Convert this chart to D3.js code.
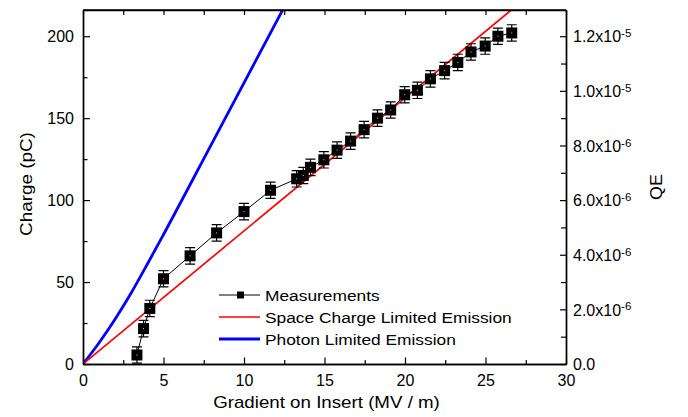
<!DOCTYPE html>
<html>
<head>
<meta charset="utf-8">
<script src="https://cdn.jsdelivr.net/npm/d3@7"></script>
<style>
  body { margin: 0; background: #fff; }
  text { font-family: "Liberation Sans", Arial, sans-serif; fill: #000; }
</style>
</head>
<body>
<div id="chart"></div>
<script>
// measured points (gradient MV/m, charge pC)
const gradient = [3.35, 3.76, 4.15, 5.0, 6.65, 8.3, 10.0, 11.65, 13.27, 13.68, 14.13, 14.96, 15.78, 16.62,
    17.46, 18.29, 19.11, 19.98, 20.77, 21.58, 22.46, 23.28, 24.1, 24.98, 25.77, 26.63]
const charge = [5.5, 21.6, 33.9, 52, 66, 80, 93, 106, 113, 115, 120, 124.6, 130.5, 136,
    143, 150, 155, 164.3, 167, 174, 179, 184, 190.4, 194, 200, 202]
const chargeErr = 5

// model curves
const spaceChargeX = [0, 26.6]
const spaceChargeY = [0, 216]
const photonX = [0, 1, 2, 3, 4, 5, 8, 12.4]
const photonY = [0, 13, 27.5, 43.5, 61, 79, 134.5, 216]

const xTicks = [0, 5, 10, 15, 20, 25, 30]
const yTicks = [0, 50, 100, 150, 200]
const qeTicks = [0, 2e-6, 4e-6, 6e-6, 8e-6, 1e-5, 1.2e-5]
const qeLabels = [["0.0", ""], ["2.0x10", "-6"], ["4.0x10", "-6"], ["6.0x10", "-6"], ["8.0x10", "-6"], ["1.0x10", "-5"], ["1.2x10", "-5"]]
const legendNames = ["Measurements", "Space Charge Limited Emission", "Photon Limited Emission"]

const width = 688, height = 417
const mLeft = 83, mRight = 566, mTop = 10, mBottom = 364

const svg = d3.select("#chart").append("svg")
    .attr("width", width)
    .attr("height", height)

const x = d3.scaleLinear().domain([0, 30]).range([mLeft, mRight])
const y = d3.scaleLinear().domain([0, 216]).range([mBottom, mTop])
const yQE = d3.scaleLinear().domain([0, 216 * 6e-8]).range([mBottom, mTop])

svg.append("clipPath").attr("id", "clip")
    .append("rect").attr("x", mLeft).attr("y", mTop).attr("width", mRight - mLeft).attr("height", mBottom - mTop)

// lines
const line = d3.line().x(d => x(d[0])).y(d => y(d[1]))
const plot = svg.append("g").attr("clip-path", "url(#clip)")

plot.append("path")
    .datum(photonX.map((v, i) => [v, photonY[i]]))
    .attr("d", line.curve(d3.curveMonotoneX))
    .attr("fill", "none")
    .attr("stroke", "#0000ff")
    .attr("stroke-width", 2.8)
line.curve(d3.curveLinear)

plot.append("path")
    .datum(spaceChargeX.map((v, i) => [v, spaceChargeY[i]]))
    .attr("d", line)
    .attr("fill", "none")
    .attr("stroke", "#ff0000")
    .attr("stroke-width", 1.7)

const meas = gradient.map((g, i) => [g, charge[i]])

plot.append("path")
    .datum(meas)
    .attr("d", line)
    .attr("fill", "none")
    .attr("stroke", "#000")
    .attr("stroke-width", 1)

const pts = plot.selectAll(".pt")
    .data(meas)
    .enter().append("g")
    .attr("class", "pt")

pts.append("path")
    .attr("d", d => {
        const cx = x(d[0]), y1 = y(d[1] + chargeErr), y2 = y(d[1] - chargeErr)
        return `M${cx},${y1}V${y2}M${cx - 5},${y1}H${cx + 5}M${cx - 5},${y2}H${cx + 5}`
    })
    .attr("stroke", "#000")
    .attr("stroke-width", 1.2)
    .attr("fill", "none")

pts.append("rect")
    .attr("x", d => x(d[0]) - 5.5)
    .attr("y", d => y(d[1]) - 5.5)
    .attr("width", 11)
    .attr("height", 11)
    .attr("fill", "#000")

pts.append("rect")
    .attr("x", d => x(d[0]) - 0.5)
    .attr("y", d => y(d[1]) - 0.5)
    .attr("width", 1)
    .attr("height", 1)
    .attr("fill", "#ccc")

// axes
function styleAxis(g) {
    g.select(".domain").attr("stroke-width", 1.4)
    g.selectAll(".tick line").attr("stroke-width", 1.2)
    g.selectAll("text").style("font-size", "16px").attr("font-family", null)
}

svg.append("g")
    .attr("transform", `translate(0,${mBottom})`)
    .call(d3.axisBottom(x).tickValues(xTicks).tickSize(-6.5).tickPadding(11).tickSizeOuter(0))
    .call(styleAxis)
svg.append("g")
    .attr("transform", `translate(0,${mBottom})`)
    .call(d3.axisBottom(x).tickValues(d3.range(2.5, 30, 5)).tickSize(-4).tickFormat("").tickSizeOuter(0))
    .call(styleAxis)

svg.append("g")
    .attr("transform", `translate(0,${mTop})`)
    .call(d3.axisTop(x).tickValues(d3.range(0, 30.1, 2.5)).tickSize(-5).tickFormat("").tickSizeOuter(0))
    .call(styleAxis)

svg.append("g")
    .attr("transform", `translate(${mLeft},0)`)
    .call(d3.axisLeft(y).tickValues(yTicks).tickSize(-7).tickPadding(9).tickSizeOuter(0))
    .call(styleAxis)
svg.append("g")
    .attr("transform", `translate(${mLeft},0)`)
    .call(d3.axisLeft(y).tickValues([25, 75, 125, 175]).tickSize(-4.5).tickFormat("").tickSizeOuter(0))
    .call(styleAxis)

const rAxis = svg.append("g")
    .attr("transform", `translate(${mRight},0)`)
    .call(d3.axisRight(yQE).tickValues(qeTicks).tickSize(-6).tickPadding(7).tickSizeOuter(0).tickFormat(""))
    .call(styleAxis)
svg.append("g")
    .attr("transform", `translate(${mRight},0)`)
    .call(d3.axisRight(yQE).tickValues([1e-6, 3e-6, 5e-6, 7e-6, 9e-6, 1.1e-5]).tickSize(-5).tickFormat("").tickSizeOuter(0))
    .call(styleAxis)

rAxis.selectAll(".tick").each(function(d, i) {
    const t = d3.select(this).select("text")
        .attr("x", 7).attr("dy", "0.36em")
        .style("font-size", "16px")
    t.text(null)
    t.append("tspan").text(qeLabels[i][0])
    if (qeLabels[i][1]) {
        t.append("tspan").text(qeLabels[i][1]).attr("dy", "-0.45em").style("font-size", "11.5px")
    }
})

// frame line on top
svg.append("line").attr("x1", mLeft).attr("x2", mRight).attr("y1", mTop).attr("y2", mTop)
    .attr("stroke", "#000").attr("stroke-width", 1.4)

// titles (the original lettering is a bit wider than Liberation Sans)
svg.append("text")
    .attr("transform", `translate(${(mLeft + mRight) / 2 + 2},408) scale(1.17,1)`)
    .attr("text-anchor", "middle")
    .style("font-size", "16px")
    .text("Gradient on Insert (MV / m)")

svg.append("text")
    .attr("transform", `translate(32,184) rotate(-90) scale(1.18,1)`)
    .attr("text-anchor", "middle")
    .style("font-size", "16px")
    .text("Charge (pC)")

svg.append("text")
    .attr("transform", `translate(662,187) rotate(-90) scale(1.12,1)`)
    .attr("text-anchor", "middle")
    .style("font-size", "16px")
    .text("QE")

// legend
const legendColors = ["#000", "#ff0000", "#0000ff"]
const legendWidths = [1, 1.7, 2.8]
const legend = svg.selectAll(".legend")
    .data(legendNames)
    .enter().append("g")
    .attr("class", "legend")
    .attr("transform", (d, i) => `translate(219,${295 + i * 22})`)

legend.append("line")
    .attr("x1", 0).attr("x2", 41)
    .attr("stroke", (d, i) => legendColors[i])
    .attr("stroke-width", (d, i) => legendWidths[i])

legend.filter((d, i) => i === 0).append("rect")
    .attr("x", 18).attr("y", -3.5).attr("width", 7).attr("height", 7)
    .attr("fill", "#000")

legend.append("text")
    .attr("transform", "translate(46,0) scale(1.12,1)")
    .attr("dy", "0.36em")
    .style("font-size", "15.5px")
    .text(d => d)
</script>
</body>
</html>
